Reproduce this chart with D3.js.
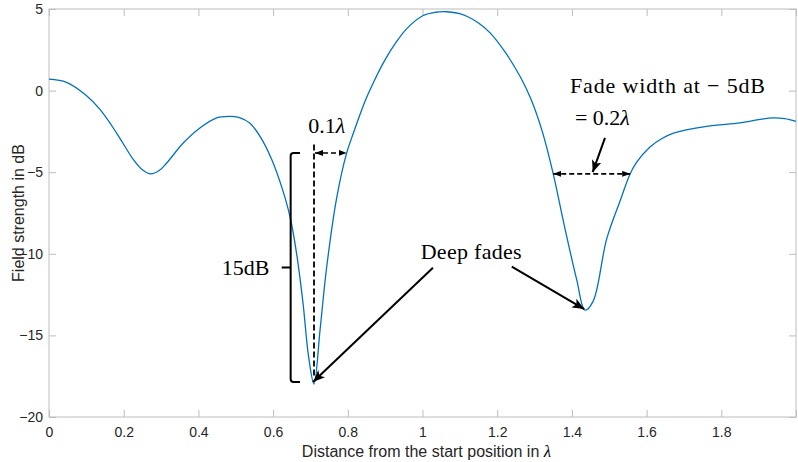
<!DOCTYPE html>
<html>
<head>
<meta charset="utf-8">
<script src="https://cdn.jsdelivr.net/npm/d3@7"></script>
<style>
  body { margin: 0; background: #fff; }
  .tex { font-family: "Liberation Serif", "DejaVu Serif", serif; fill: #000; }
</style>
</head>
<body>
<svg id="chart" width="798" height="462"></svg>
<script>
// distance in wavelengths and field strength in dB
var distance = [0, 0.047, 0.1, 0.137, 0.181, 0.226, 0.25, 0.272, 0.295, 0.315, 0.36, 0.404, 0.449,
  0.481, 0.51, 0.538, 0.565, 0.596, 0.623, 0.645, 0.663, 0.68, 0.695, 0.7095, 0.726, 0.743, 0.77, 0.797,
  0.815, 0.848, 0.868, 0.9, 0.93, 0.958, 1.002, 1.035, 1.065, 1.1, 1.12, 1.15, 1.181, 1.22, 1.261, 1.29, 1.32, 1.35,
  1.38, 1.413, 1.435, 1.457, 1.493, 1.53, 1.556, 1.573, 1.609, 1.64, 1.672, 1.761, 1.85, 1.9, 1.939, 1.97, 2];
var fieldDb = [0.7, 0.51, -0.3, -1.17, -2.6, -4.23, -4.85, -5.1, -4.9, -4.44, -3.2, -2.29, -1.67,
  -1.58, -1.65, -2.0, -2.8, -4.2, -5.9, -7.7, -10.0, -13.0, -16.3, -17.98, -14.6, -10.9, -6.6, -3.82,
  -2.6, -0.55, 0.47, 1.9, 2.98, 3.8, 4.6, 4.8, 4.83, 4.71, 4.54, 4.14, 3.54, 2.4, 0.88, -0.5, -2.45, -5.1,
  -8.3, -11.6, -13.45, -12.9, -9.1, -6.7, -5.1, -4.4, -3.45, -2.95, -2.6, -2.19, -1.98, -1.78, -1.67, -1.72, -1.88];

var xTicks = [0, 0.2, 0.4, 0.6, 0.8, 1, 1.2, 1.4, 1.6, 1.8, 2];
var yTicks = [-20, -15, -10, -5, 0, 5];

var data = distance.map(function (d, i) { return { x: d, y: fieldDb[i] }; });

var margin = { top: 9, right: 2, bottom: 45, left: 49 };
var svg = d3.select("#chart"),
  width = +svg.attr("width") - margin.left - margin.right,
  height = +svg.attr("height") - margin.top - margin.bottom;

var x = d3.scaleLinear().domain([0, 2]).range([0, width]);
var y = d3.scaleLinear().domain([-20, 5]).range([height, 0]);

var defs = svg.append("defs");
defs.append("marker")
  .attr("id", "bigHead")
  .attr("viewBox", "0 0 12 10")
  .attr("refX", 12).attr("refY", 5)
  .attr("markerWidth", 12).attr("markerHeight", 10)
  .attr("markerUnits", "userSpaceOnUse")
  .attr("orient", "auto")
  .append("path").attr("d", "M0,0 L12,5 L0,10 L3,5 Z").attr("fill", "#000");
defs.append("marker")
  .attr("id", "smallHead")
  .attr("viewBox", "0 0 8 6")
  .attr("refX", 8).attr("refY", 3)
  .attr("markerWidth", 8).attr("markerHeight", 6)
  .attr("markerUnits", "userSpaceOnUse")
  .attr("orient", "auto-start-reverse")
  .append("path").attr("d", "M0,0 L8,3 L0,6 Z").attr("fill", "#000");

var g = svg.append("g").attr("transform", "translate(" + margin.left + "," + margin.top + ")");

// axes (box with inward ticks on all sides, matlab style)
var axisColor = "#bdbdbd";
var sansFont = "Helvetica, 'Liberation Sans', Arial, sans-serif";
function styleAxis(sel) {
  sel.select(".domain").remove();
  sel.selectAll(".tick line").attr("stroke", axisColor);
  sel.selectAll(".tick text").attr("fill", "#262626")
    .style("font-family", sansFont)
    .style("font-size", "14px");
}
g.append("g").attr("transform", "translate(0," + height + ")")
  .call(d3.axisBottom(x).tickValues(xTicks).tickSize(-7).tickPadding(10).tickFormat(d3.format("")))
  .call(styleAxis);
g.append("g")
  .call(d3.axisTop(x).tickValues(xTicks).tickSize(-7).tickFormat(""))
  .call(styleAxis);
g.append("g")
  .call(d3.axisLeft(y).tickValues(yTicks).tickSize(-7).tickPadding(6))
  .call(styleAxis);
g.append("g").attr("transform", "translate(" + width + ",0)")
  .call(d3.axisRight(y).tickValues(yTicks).tickSize(-7).tickFormat(""))
  .call(styleAxis);
g.selectAll(".tick text").filter(function (d) { return d === 2; }).remove();
g.append("rect").attr("width", width).attr("height", height)
  .attr("fill", "none").attr("stroke", axisColor).attr("stroke-width", 1);

// axis titles
g.append("text")
  .attr("transform", "translate(-25," + height / 2 + ") rotate(-90)")
  .attr("text-anchor", "middle")
  .style("font-family", sansFont)
  .style("font-size", "16px").attr("fill", "#262626")
  .text("Field strength in dB");
var xl = g.append("text")
  .attr("x", width / 2 + 4).attr("y", height + 40)
  .attr("text-anchor", "middle")
  .style("font-family", sansFont)
  .style("font-size", "16px").attr("fill", "#262626");
xl.append("tspan").text("Distance from the start position in ");
xl.append("tspan").attr("class", "tex").style("font-style", "italic").style("font-size", "17px").text("λ");

// the field strength curve
var line = d3.line()
  .x(function (d) { return x(d.x); })
  .y(function (d) { return y(d.y); })
  .curve(d3.curveCatmullRom.alpha(0.5));
g.append("path").datum(data)
  .attr("fill", "none").attr("stroke", "#0072BD").attr("stroke-width", 1.3)
  .attr("d", line);

// annotations
var ann = g.append("g").attr("stroke", "#000");
// 15 dB bracket
var bx = 0.647, bTop = -3.82, bBot = -17.85, bMid = -10.84;
ann.append("path")
  .attr("fill", "none").attr("stroke-width", 2)
  .attr("d", "M" + x(0.672) + "," + y(bTop) + " H" + (x(bx) + 3) + " Q" + x(bx) + "," + y(bTop) + " " + x(bx) + "," + (y(bTop) + 3) +
    " V" + (y(bBot) - 3) + " Q" + x(bx) + "," + y(bBot) + " " + (x(bx) + 3) + "," + y(bBot) + " H" + x(0.672) +
    " M" + x(0.623) + "," + y(bMid) + " H" + x(bx));
// dashed vertical at the deepest fade and the 0.1 lambda arrow
ann.append("line")
  .attr("x1", x(0.7095)).attr("x2", x(0.7095)).attr("y1", y(-3.3)).attr("y2", y(-17.6))
  .attr("stroke-width", 1.8).attr("stroke-dasharray", "6,3");
ann.append("line")
  .attr("x1", x(0.7095) + 1).attr("x2", x(0.797)).attr("y1", y(-3.82)).attr("y2", y(-3.82))
  .attr("stroke-width", 1.6).attr("stroke-dasharray", "5,3")
  .attr("marker-start", "url(#smallHead)").attr("marker-end", "url(#smallHead)");
// fade width at -5 dB
ann.append("line")
  .attr("x1", x(1.35)).attr("x2", x(1.556)).attr("y1", y(-5.1)).attr("y2", y(-5.1))
  .attr("stroke-width", 1.6).attr("stroke-dasharray", "5,3")
  .attr("marker-start", "url(#smallHead)").attr("marker-end", "url(#smallHead)");
ann.append("line")
  .attr("x1", x(1.4886)).attr("y1", y(-2.9)).attr("x2", x(1.4557)).attr("y2", y(-5.0))
  .attr("stroke-width", 2).attr("marker-end", "url(#bigHead)");
// deep fade arrows
ann.append("line")
  .attr("x1", x(1.028)).attr("y1", y(-10.86)).attr("x2", x(0.7068)).attr("y2", y(-17.85))
  .attr("stroke-width", 2).attr("marker-end", "url(#bigHead)");
ann.append("line")
  .attr("x1", x(1.239)).attr("y1", y(-10.78)).attr("x2", x(1.433)).attr("y2", y(-13.39))
  .attr("stroke-width", 2).attr("marker-end", "url(#bigHead)");

// annotation labels
function texLabel(px, py, anchor, size) {
  return g.append("text").attr("class", "tex")
    .attr("x", x(px)).attr("y", y(py))
    .attr("text-anchor", anchor).style("font-size", size + "px");
}
texLabel(0.59, -11.3, "end", 22).text("15dB");
var t1 = texLabel(0.694, -2.6, "start", 22);
t1.append("tspan").text("0.1");
t1.append("tspan").style("font-style", "italic").text("λ");
texLabel(0.995, -10.33, "start", 22).attr("textLength", 101).text("Deep fades");
texLabel(1.395, -0.14, "start", 22).attr("textLength", 195).text("Fade width at − 5dB");
var t2 = texLabel(1.408, -2.09, "start", 22);
t2.append("tspan").text("= 0.2");
t2.append("tspan").style("font-style", "italic").text("λ");
</script>
</body>
</html>
